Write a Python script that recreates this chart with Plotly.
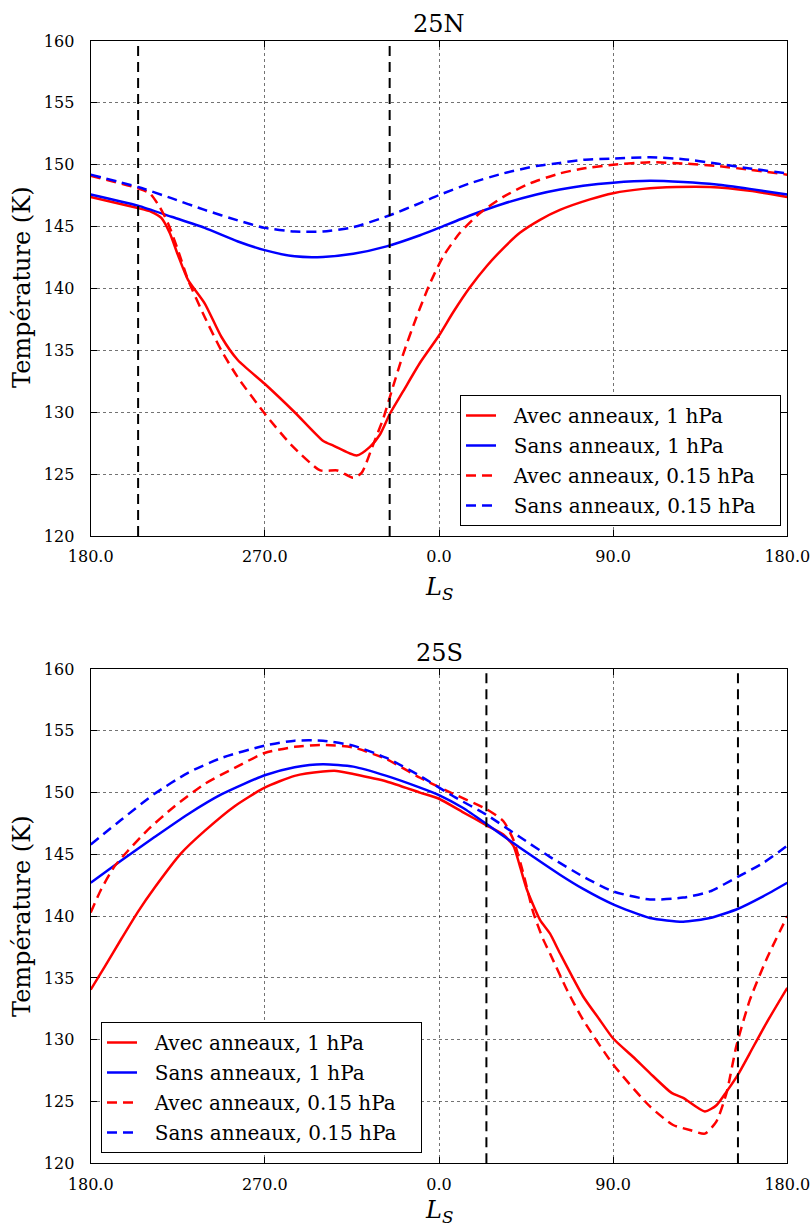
import plotly.graph_objects as go
from plotly.subplots import make_subplots

# Ls axis is unwrapped: 180 -> 360 (=0) -> 540 (=180 of next year)
TICK_VALS = [180, 270, 360, 450, 540]
TICK_TEXT = ["180.0", "270.0", "0.0", "90.0", "180.0"]

NAMES = ["Avec anneaux, 1 hPa", "Sans anneaux, 1 hPa",
         "Avec anneaux, 0.15 hPa", "Sans anneaux, 0.15 hPa"]

# ---- 25N ----
n_avec_1_x = [180, 204.4, 211.3, 216.5, 220.8, 225.1, 230.3, 238.9, 247.5, 256.1, 269.9, 285.4,
              300, 305.4, 317.4, 324.3, 329.5, 334.7, 341.5, 350.2, 360, 367.4, 376, 384.6,
              393.2, 401.8, 412.2, 422.5, 438, 450, 465.5, 482.7, 500, 520.6, 540]
n_avec_1_y = [147.4, 146.5, 146.2, 145.7, 144.5, 142.7, 140.7, 138.8, 136.1, 134.2, 132.3, 130.0,
              127.7, 127.3, 126.5, 127.2, 128.2, 129.9, 131.7, 134.0, 136.2, 138.1, 140.1, 141.8,
              143.25, 144.5, 145.55, 146.35, 147.2, 147.7, 148.05, 148.2, 148.2, 147.9, 147.4]

n_sans_1_x = [180, 204.4, 221.7, 238.9, 256.1, 269.9, 285.4, 300, 315.7, 332.9, 350.2, 360,
              376, 393.2, 410.4, 422.5, 434.5, 450, 469, 486.2, 503.4, 520.6, 540]
n_sans_1_y = [147.6, 146.7, 145.8, 144.9, 143.8, 143.1, 142.6, 142.55, 142.8, 143.4, 144.3, 144.9,
              145.9, 146.85, 147.6, 148.0, 148.3, 148.55, 148.7, 148.6, 148.4, 148.05, 147.6]

n_avec_015_x = [180, 204.4, 210.5, 215.6, 219.9, 225.1, 230.3, 238.9, 247.5, 256.1, 269.9, 284,
                298.7, 307.5, 315.6, 320, 326, 331.2, 335.5, 341.5, 348.4, 355.3, 362.2, 370.8,
                381.2, 393.2, 407, 422.5, 434.5, 450, 469, 486.2, 503.4, 520.6, 540]
n_avec_015_y = [149.1, 148.1, 147.7, 146.6, 145.3, 143.1, 140.7, 137.7, 135.0, 132.8, 129.9, 127.3,
                125.3, 125.3, 124.7, 125.1, 127.4, 129.5, 131.7, 134.7, 137.7, 140.4, 142.6, 144.5,
                146.1, 147.4, 148.5, 149.3, 149.7, 150.0, 150.2, 150.1, 149.9, 149.6, 149.2]

n_sans_015_x = [180, 204.4, 221.7, 238.9, 256.1, 269.9, 285.4, 300, 315.7, 334.3, 350.2, 360,
                376, 393.2, 410.4, 422.5, 434.5, 450, 469, 486.2, 503.4, 520.6, 540]
n_sans_015_y = [149.2, 148.2, 147.3, 146.35, 145.5, 144.9, 144.6, 144.6, 144.95, 145.9, 146.9, 147.55,
                148.5, 149.3, 149.9, 150.15, 150.4, 150.5, 150.6, 150.45, 150.1, 149.7, 149.3]

n_vlines = [204.5, 334.5]

# ---- 25S ----
s_avec_1_x = [180, 187.2, 195.8, 204.4, 213, 226.8, 238.9, 254.4, 269.9, 285.4, 300, 307.1,
              315.7, 332.9, 350.2, 360, 372.5, 384.6, 393.2, 398.4, 401.8, 405.3, 412.2, 417.3,
              422.5, 434.5, 443.1, 450, 460.4, 469, 480.2, 486.2, 497.4, 503.4, 508.6, 514.6,
              520.6, 529.2, 540]
s_avec_1_y = [134.05, 135.9, 138.15, 140.35, 142.3, 145.1, 146.9, 148.9, 150.4, 151.35, 151.7, 151.75,
              151.5, 150.9, 150.0, 149.5, 148.4, 147.35, 146.6, 145.7, 144.05, 142.2, 139.7, 138.6,
              137.0, 133.5, 131.6, 130.1, 128.6, 127.3, 125.7, 125.3, 124.2, 124.7, 125.8, 127.2,
              128.9, 131.35, 134.2]

s_sans_1_x = [180, 195.8, 213, 230.3, 247.5, 269.9, 285.4, 300, 315.7, 332.9, 350.2, 360,
              372.5, 384.6, 394.9, 408.7, 422.5, 434.5, 450, 469, 486.2, 500, 514.6, 527.5, 540]
s_sans_1_y = [142.7, 144.5, 146.4, 148.25, 149.85, 151.4, 152.05, 152.3, 152.1, 151.35, 150.4, 149.8,
              148.75, 147.45, 146.3, 144.8, 143.35, 142.2, 140.95, 139.85, 139.55, 139.85, 140.6, 141.6, 142.7]

s_avec_015_x = [180, 185.5, 192.4, 199.3, 209.6, 223.4, 238.9, 254.4, 269.9, 285.4, 300, 315.7,
                332.9, 350.2, 367.4, 384.6, 393.2, 398.4, 403.5, 408.7, 413.9, 417.3, 425.9, 434.5,
                450, 469, 481, 489.6, 497.4, 503.4, 508.6, 513.7, 520.6, 529.2, 540]
s_avec_015_y = [140.3, 142.2, 144.05, 145.3, 147.0, 148.9, 150.7, 152.0, 153.2, 153.7, 153.85, 153.65,
                152.7, 151.2, 149.9, 148.65, 147.7, 146.2, 143.5, 140.3, 138.1, 137.0, 134.1, 131.6,
                128.0, 124.6, 123.1, 122.7, 122.4, 123.4, 125.7, 129.5, 133.2, 136.5, 140.0]

s_sans_015_x = [180, 195.8, 213, 230.3, 247.5, 269.9, 285.4, 300, 315.7, 332.9, 350.2, 367.4,
                384.6, 401.8, 417.3, 434.5, 450, 469, 486.2, 500, 514.6, 527.5, 540]
s_sans_015_y = [145.8, 147.8, 149.9, 151.6, 152.8, 153.8, 154.2, 154.2, 153.8, 152.8, 151.35, 149.7,
                148.2, 146.4, 144.8, 143.2, 142.0, 141.35, 141.5, 142.0, 143.2, 144.3, 145.7]

s_vlines = [384.5, 514.5]

FONT = "DejaVu Serif"
STYLES = [("red", "solid"), ("blue", "solid"), ("red", "10px,6px"), ("blue", "10px,6px")]
LEAD = "&nbsp;" * 2   # the original legend leaves a wider gap after the line sample
TAIL = "&nbsp;" * 3

fig = make_subplots(rows=2, cols=1)

panels = [
    (1, "legend", [(n_avec_1_x, n_avec_1_y), (n_sans_1_x, n_sans_1_y),
                   (n_avec_015_x, n_avec_015_y), (n_sans_015_x, n_sans_015_y)], n_vlines),
    (2, "legend2", [(s_avec_1_x, s_avec_1_y), (s_sans_1_x, s_sans_1_y),
                    (s_avec_015_x, s_avec_015_y), (s_sans_015_x, s_sans_015_y)], s_vlines),
]

for row, leg, series, vlines in panels:
    for i, (xs, ys) in enumerate(series):
        color, dash = STYLES[i]
        fig.add_trace(go.Scatter(
            x=xs, y=ys, mode="lines", name=LEAD + NAMES[i] + TAIL,
            line=dict(color=color, width=2.5, dash=dash, shape="spline", smoothing=0.6),
            legend=leg, legendgroup=f"{leg}{i}",
        ), row=row, col=1)
    for v in vlines:
        fig.add_vline(x=v, line=dict(color="black", width=2, dash="10px,6px"), row=row, col=1)

x_dom = [90.7 / 811, 787.3 / 811]
y_doms = [[1 - 536 / 1227, 1 - 41 / 1227], [1 - 1163.3 / 1227, 1 - 669 / 1227]]

axis_common = dict(
    showline=True, linecolor="black", linewidth=1.3, mirror="allticks",
    ticks="inside", ticklen=6, tickcolor="black",
    showgrid=True, gridcolor="rgba(0,0,0,0.55)", gridwidth=1, griddash="dot",
    zeroline=False, automargin=False,
    tickfont=dict(family=FONT, size=16, color="black"),
)

for k in (1, 2):
    sfx = "" if k == 1 else str(k)
    fig.layout["xaxis" + sfx].update(
        domain=x_dom, range=[180, 540], tickvals=TICK_VALS, ticktext=TICK_TEXT,
        ticklabelstandoff=6, **axis_common)
    fig.layout["yaxis" + sfx].update(
        domain=y_doms[k - 1], range=[120, 160], tickvals=[120, 125, 130, 135, 140, 145, 150, 155, 160],
        ticklabelstandoff=12, **axis_common)

xc = (x_dom[0] + x_dom[1]) / 2
annotations = [
    dict(text="25N", x=xc, y=1 - 24 / 1227, font=dict(size=24)),
    dict(text="25S", x=xc, y=1 - 653 / 1227, font=dict(size=24)),
    dict(text="<i>L</i><sub><i>S</i></sub>", x=xc, y=1 - 588 / 1227, font=dict(size=24)),
    dict(text="<i>L</i><sub><i>S</i></sub>", x=xc, y=1 - 1211 / 1227, font=dict(size=24)),
    dict(text="Température (K)", x=22 / 811, y=1 - 287 / 1227, textangle=-90, font=dict(size=24)),
    dict(text="Température (K)", x=22 / 811, y=1 - 916 / 1227, textangle=-90, font=dict(size=24)),
]
for a in annotations:
    a.update(xref="paper", yref="paper", showarrow=False, xanchor="center", yanchor="middle")
    a["font"].update(family=FONT, color="black")

legend_common = dict(
    bgcolor="white", bordercolor="black", borderwidth=1, itemwidth=30,
    font=dict(family=FONT, size=20, color="black"), tracegroupgap=1,
)

fig.update_layout(
    width=811, height=1227,
    margin=dict(l=0, r=0, t=0, b=0),
    paper_bgcolor="white", plot_bgcolor="white",
    annotations=annotations,
    legend=dict(x=781 / 811, y=1 - 526 / 1227, xanchor="right", yanchor="bottom", **legend_common),
    legend2=dict(x=101 / 811, y=1 - 1153 / 1227, xanchor="left", yanchor="bottom", **legend_common),
)

fig.write_html("out.html", config={"displayModeBar": False},
               post_script="document.body.style.margin='0';document.body.style.overflow='hidden';")
